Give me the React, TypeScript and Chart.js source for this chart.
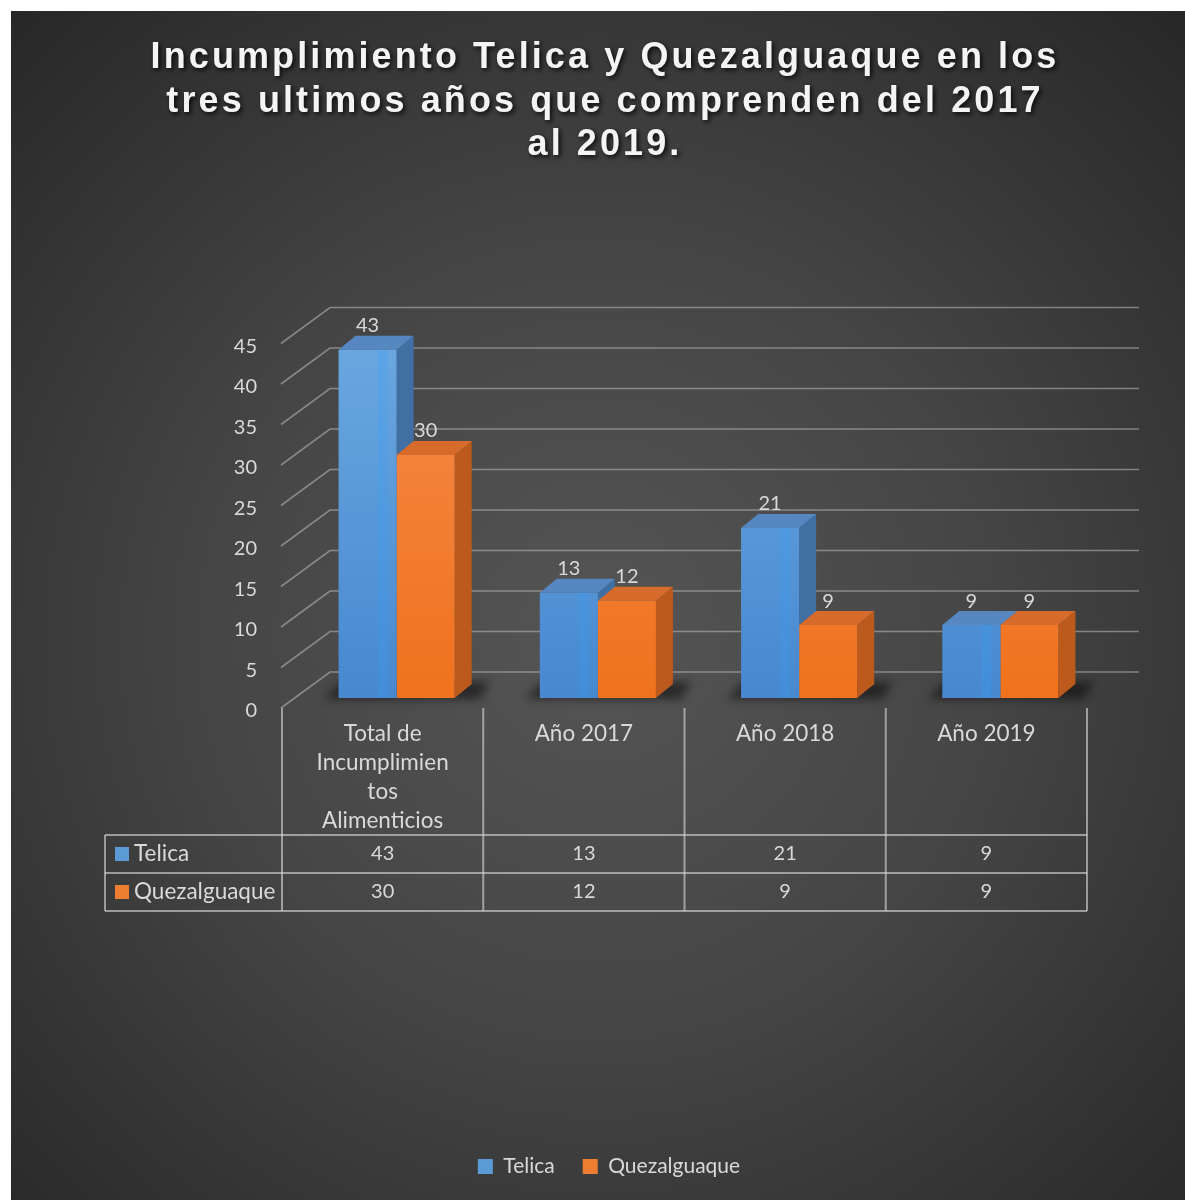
import React, { useEffect, useRef } from "react";
import { Chart, registerables } from "chart.js";

Chart.register(...registerables);

// ---------- data ----------
const titleLines = [
  "Incumplimiento Telica y Quezalguaque en los",
  "tres ultimos años que comprenden del 2017",
  "al 2019.",
];
const categories: string[][] = [
  ["Total de", "Incumplimien", "tos", "Alimenticios"],
  ["Año 2017"],
  ["Año 2018"],
  ["Año 2019"],
];
const seriesNames = ["Telica", "Quezalguaque"];
const telicaValues = [43, 13, 21, 9];
const quezalguaqueValues = [30, 12, 9, 9];
const yMin = 0;
const yMax = 45;
const yStep = 5;

// ---------- layout / style ----------
const W = 1185;
const H = 1200;
const CARD_X = 11;
const CARD_Y = 11;
const PLOT_TOP = 333.5;
const PLOT_BOTTOM = 698;
const PAD_L = 117;
const PAD_R = 84;
const PAD_B = 13;
const Y_AXIS_W = 179;
const FONT = "Lato, 'Noto Sans', sans-serif";
const TEXT = "#d9d9d9";
const WORD_SIZE = 22.5;
const NUM_SIZE = 20;

const palette = [
  { key: "#5b9bd5", top: "#6ba8e1", bottom: "#4788cf", side: "#3f6fa3", cap: "#5687c0", stripe: "rgba(50,160,250,0.25)" },
  { key: "#ed7d31", top: "#f58a49", bottom: "#f0721d", side: "#bb5a1c", cap: "#d76b2b", stripe: "rgba(255,150,80,0)" },
];

const BAR_DX = 17;
const BAR_DY = -14;
const WALL_FRONT_DX = -15;
const WALL_FRONT_DY = 10;
const WALL_BACK_DX = 34;
const WALL_BACK_DY = -26;
const WALL_RIGHT_EXT = 38;
const TABLE_SHIFT = 14;
const HEADER_H = 127;
const ROW_H = 38;
const LABEL_LEFT = 105;

function frontGradient(i: number) {
  return (c: any) => {
    const chart = c.chart;
    const a = chart.chartArea;
    if (!a) return palette[i].key;
    const g = chart.ctx.createLinearGradient(0, a.top, 0, a.bottom);
    g.addColorStop(0, palette[i].top);
    g.addColorStop(1, palette[i].bottom);
    return g;
  };
}

const backgroundPlugin = {
  id: "cardBackground",
  beforeDraw(chart: any) {
    const ctx = chart.ctx as CanvasRenderingContext2D;
    ctx.save();
    ctx.fillStyle = "#ffffff";
    ctx.fillRect(0, 0, W, H);
    const cx = (CARD_X + W) / 2;
    const g = ctx.createRadialGradient(cx, 640, 0, cx, 640, 880);
    g.addColorStop(0, "#555555");
    g.addColorStop(0.45, "#454545");
    g.addColorStop(1, "#262626");
    ctx.fillStyle = g;
    ctx.fillRect(CARD_X, CARD_Y, W - CARD_X, H - CARD_Y);

    // title
    ctx.font = `bold 36px 'Liberation Sans', Arial, sans-serif`;
    (ctx as any).letterSpacing = "3.1px";
    ctx.textAlign = "center";
    ctx.textBaseline = "alphabetic";
    ctx.fillStyle = "#f4f4f4";
    ctx.shadowColor = "rgba(0,0,0,0.85)";
    ctx.shadowBlur = 5;
    ctx.shadowOffsetX = 2;
    ctx.shadowOffsetY = 2;
    titleLines.forEach((t, k) => ctx.fillText(t, 605, 68 + k * 43.5));
    ctx.restore();
  },
};

const depthPlugin = {
  id: "depth3d",
  beforeDatasetsDraw(chart: any) {
    const ctx = chart.ctx as CanvasRenderingContext2D;
    const a = chart.chartArea;
    const y = chart.scales.y;
    ctx.save();
    // side wall + back wall grid lines
    ctx.strokeStyle = "rgba(190,190,190,0.55)";
    ctx.lineWidth = 1.6;
    for (let v = yMin; v <= yMax; v += yStep) {
      const py = y.getPixelForValue(v);
      ctx.beginPath();
      ctx.moveTo(a.left + WALL_FRONT_DX, py + WALL_FRONT_DY);
      ctx.lineTo(a.left + WALL_BACK_DX, py + WALL_BACK_DY);
      ctx.lineTo(a.right + WALL_RIGHT_EXT, py + WALL_BACK_DY);
      ctx.stroke();
    }
    const metas = chart.data.datasets.map((_: any, i: number) => chart.getDatasetMeta(i));
    const n = chart.data.labels.length;
    // floor shadows
    for (let i = 0; i < n; i++) {
      const bars = metas.map((m: any) => m.data[i].getProps(["x", "y", "base", "width"], true));
      const l = Math.min(...bars.map((b: any) => b.x - b.width / 2));
      const r = Math.max(...bars.map((b: any) => b.x + b.width / 2));
      const base = bars[0].base;
      ctx.save();
      ctx.filter = "blur(5px)";
      ctx.fillStyle = "rgba(0,0,0,0.5)";
      ctx.beginPath();
      ctx.moveTo(l - 14, base + 1);
      ctx.lineTo(r + BAR_DX + 8, base + 1);
      ctx.lineTo(r + BAR_DX + 18, base + BAR_DY - 2);
      ctx.lineTo(l + 2, base + BAR_DY - 2);
      ctx.closePath();
      ctx.fill();
      ctx.restore();
    }
    // side and top faces
    for (let i = 0; i < n; i++) {
      metas.forEach((m: any, d: number) => {
        const b = m.data[i].getProps(["x", "y", "base", "width"], true);
        const l = b.x - b.width / 2;
        const r = b.x + b.width / 2;
        ctx.fillStyle = palette[d].side;
        ctx.beginPath();
        ctx.moveTo(r, b.y);
        ctx.lineTo(r + BAR_DX, b.y + BAR_DY);
        ctx.lineTo(r + BAR_DX, b.base + BAR_DY);
        ctx.lineTo(r, b.base);
        ctx.closePath();
        ctx.fill();
        ctx.fillStyle = palette[d].cap;
        ctx.beginPath();
        ctx.moveTo(l, b.y);
        ctx.lineTo(l + BAR_DX, b.y + BAR_DY);
        ctx.lineTo(r + BAR_DX, b.y + BAR_DY);
        ctx.lineTo(r, b.y);
        ctx.closePath();
        ctx.fill();
      });
    }
    ctx.restore();
  },
  afterDatasetsDraw(chart: any) {
    const ctx = chart.ctx as CanvasRenderingContext2D;
    ctx.save();
    chart.data.datasets.forEach((ds: any, d: number) => {
      const m = chart.getDatasetMeta(d);
      m.data.forEach((el: any, i: number) => {
        const b = el.getProps(["x", "y", "base", "width"], true);
        const l = b.x - b.width / 2;
        ctx.fillStyle = palette[d].stripe;
        ctx.fillRect(l + b.width * 0.68, b.y, b.width * 0.16, b.base - b.y);
        ctx.fillStyle = TEXT;
        ctx.font = `${NUM_SIZE}px ${FONT}`;
        ctx.textAlign = "center";
        ctx.textBaseline = "middle";
        ctx.fillText(String(ds.data[i]), b.x, b.y - 24);
      });
    });
    ctx.restore();
  },
};

const tablePlugin = {
  id: "dataTable",
  afterDraw(chart: any) {
    const ctx = chart.ctx as CanvasRenderingContext2D;
    const a = chart.chartArea;
    const x = chart.scales.x;
    const y = chart.scales.y;
    const n = chart.data.labels.length;
    const colW = (a.right - a.left) / n;
    const tLeft = a.left - TABLE_SHIFT;
    const tRight = a.right - TABLE_SHIFT;
    const tTop = y.getPixelForValue(0) + WALL_FRONT_DY;
    const hdrBottom = tTop + HEADER_H;
    const ds = chart.data.datasets;
    const tBottom = hdrBottom + ROW_H * ds.length;
    ctx.save();
    ctx.strokeStyle = "rgba(215,215,215,0.62)";
    ctx.lineWidth = 2;
    for (let r = 0; r <= ds.length; r++) {
      const yy = hdrBottom + r * ROW_H;
      ctx.beginPath();
      ctx.moveTo(LABEL_LEFT, yy);
      ctx.lineTo(tRight, yy);
      ctx.stroke();
    }
    for (let c = 0; c <= n; c++) {
      const xx = tLeft + c * colW;
      ctx.beginPath();
      ctx.moveTo(xx, tTop);
      ctx.lineTo(xx, tBottom);
      ctx.stroke();
    }
    ctx.beginPath();
    ctx.moveTo(LABEL_LEFT, hdrBottom);
    ctx.lineTo(LABEL_LEFT, tBottom);
    ctx.stroke();

    ctx.fillStyle = TEXT;
    ctx.textBaseline = "middle";
    ctx.textAlign = "center";
    ctx.font = `${WORD_SIZE}px ${FONT}`;
    (chart.data.labels as string[][]).forEach((lines, i) => {
      const cx = x.getPixelForValue(i) - TABLE_SHIFT;
      lines.forEach((ln, k) => ctx.fillText(ln, cx, tTop + 26 + k * 29));
    });
    ds.forEach((d: any, r: number) => {
      const cy = hdrBottom + r * ROW_H + ROW_H / 2;
      ctx.fillStyle = palette[r].key;
      ctx.fillRect(LABEL_LEFT + 10, cy - 7, 14, 14);
      ctx.fillStyle = TEXT;
      ctx.textAlign = "left";
      ctx.font = `${WORD_SIZE}px ${FONT}`;
      ctx.fillText(d.label, LABEL_LEFT + 29, cy);
      ctx.textAlign = "center";
      ctx.font = `${NUM_SIZE}px ${FONT}`;
      d.data.forEach((v: number, i: number) => {
        ctx.fillText(String(v), x.getPixelForValue(i) - TABLE_SHIFT, cy);
      });
    });
    ctx.restore();
  },
};

export default function App() {
  const ref = useRef<HTMLCanvasElement>(null);
  useEffect(() => {
    const chart = new Chart(ref.current as HTMLCanvasElement, {
      type: "bar",
      data: {
        labels: categories as any,
        datasets: [
          { label: seriesNames[0], data: telicaValues, backgroundColor: frontGradient(0) as any, borderWidth: 0, categoryPercentage: 0.577, barPercentage: 1 },
          { label: seriesNames[1], data: quezalguaqueValues, backgroundColor: frontGradient(1) as any, borderWidth: 0, categoryPercentage: 0.577, barPercentage: 1 },
        ],
      },
      options: {
        responsive: false,
        animation: false,
        devicePixelRatio: 1,
        layout: { padding: { left: PAD_L, right: PAD_R, top: PLOT_TOP, bottom: PAD_B } },
        scales: {
          x: {
            display: true,
            grid: { display: false, drawTicks: false },
            border: { display: false },
            ticks: { display: false },
            afterFit: (s: any) => {
              const leg = s.chart.legend;
              const lh = leg ? leg.height : 0;
              s.height = H - PAD_B - lh - PLOT_BOTTOM;
            },
          },
          y: {
            min: yMin,
            max: yMax,
            grid: { display: false, drawTicks: false },
            border: { display: false },
            ticks: { stepSize: yStep, padding: 39, labelOffset: 13, color: TEXT, font: { family: FONT, size: NUM_SIZE } },
            afterFit: (s: any) => {
              s.width = Y_AXIS_W;
            },
          },
        },
        plugins: {
          tooltip: { enabled: false },
          title: { display: false },
          legend: {
            position: "bottom",
            labels: {
              boxWidth: 15,
              boxHeight: 15,
              padding: 28,
              color: TEXT,
              font: { family: FONT, size: 21 },
              generateLabels: (c: any) =>
                c.data.datasets.map((d: any, i: number) => ({
                  text: d.label,
                  fillStyle: palette[i].key,
                  strokeStyle: palette[i].key,
                  lineWidth: 0,
                  hidden: false,
                  datasetIndex: i,
                  fontColor: TEXT,
                })),
            },
          },
        },
      },
      plugins: [backgroundPlugin, depthPlugin, tablePlugin],
    });
    return () => chart.destroy();
  }, []);
  return (
    <div style={{ position: "absolute", left: 0, top: 0, width: W, height: H }}>
      <canvas ref={ref} width={W} height={H} style={{ display: "block", width: W, height: H }} />
    </div>
  );
}
